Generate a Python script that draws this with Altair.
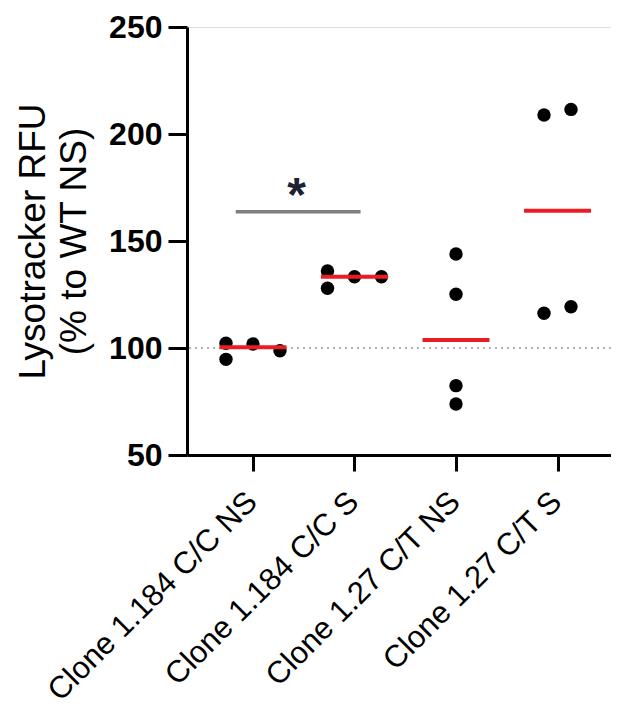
import json
import altair as alt
import pandas as pd

# ---- data ----
groups = ["Clone 1.184 C/C NS", "Clone 1.184 C/C S", "Clone 1.27 C/T NS", "Clone 1.27 C/T S"]
g1_values = [102.2, 94.7, 101.9, 98.7]
g2_values = [136.0, 127.9, 133.3, 133.3]
g3_values = [143.9, 125.1, 82.4, 73.8]
g4_values = [208.9, 211.5, 116.2, 119.3]
# horizontal spreading slot of each dot inside its group (GraphPad-style scatter)
g1_slots = [-1, -1, 0, 1]
g2_slots = [-1, -1, 0, 1]
g3_slots = [0, 0, 0, 0]
g4_slots = [-0.5, 0.5, -0.5, 0.5]

y_ticks = [50, 100, 150, 200, 250]
reference_level = [100]
sig_from = [-0.17]
sig_to = [1.06]
sig_level = [163.7]
sig_star_pos = [0.43]
sig_label = ["*"]

rows = []
for gi, (vals, slots) in enumerate(zip([g1_values, g2_values, g3_values, g4_values],
                                       [g1_slots, g2_slots, g3_slots, g4_slots])):
    for v, s in zip(vals, slots):
        rows.append({"group": groups[gi], "gidx": gi, "slot": s, "value": v})
df = pd.DataFrame(rows)

sig_df = pd.DataFrame({"x": sig_from, "x2": sig_to, "y": sig_level,
                       "xs": sig_star_pos, "label": sig_label})
ref_df = pd.DataFrame({"y": reference_level})

FONT = "Liberation Sans"
label_expr = json.dumps(groups) + "[datum.value]"

x_scale = alt.Scale(domain=[-0.65, 3.527], nice=False, zero=False)
y_scale = alt.Scale(domain=[50, 250], nice=False, zero=False)

x_axis = alt.Axis(values=[0, 1, 2, 3], labelExpr=label_expr, labelAngle=-45,
                  labelAlign="right", labelBaseline="middle", labelFontSize=31,
                  labelFont=FONT, labelColor="black", labelPadding=26, labelOffset=-1,
                  labelLimit=0,
                  tickSize=16, tickWidth=3, tickColor="black", domainWidth=3,
                  domainColor="black", grid=False, title=None, labelOverlap=False,
                  labelBound=False, labelFlush=False)
y_axis = alt.Axis(values=y_ticks, labelFontSize=32, labelFontWeight="bold", labelFont=FONT,
                  labelColor="black", labelPadding=6, tickSize=19, tickWidth=3,
                  tickColor="black", domainWidth=3, domainColor="black", grid=False,
                  title=["Lysotracker RFU", "(% to WT NS)"], titleFont=FONT,
                  titleFontSize=37, titleFontWeight="normal", titleColor="black",
                  titleLineHeight=41, titlePadding=15)

base = alt.Chart(df)

dots = base.transform_calculate(
    xpos="datum.gidx + datum.slot * 0.266"
).mark_circle(size=180, color="black", opacity=1).encode(
    x=alt.X("xpos:Q", scale=x_scale, axis=x_axis),
    y=alt.Y("value:Q", scale=y_scale, axis=y_axis),
)

medians = base.transform_aggregate(
    med="median(value)", groupby=["gidx"]
).transform_calculate(
    xa="datum.gidx - 0.33", xb="datum.gidx + 0.33"
).mark_rule(color="#ec1c24", strokeWidth=4).encode(
    x=alt.X("xa:Q", scale=x_scale),
    x2="xb:Q",
    y=alt.Y("med:Q", scale=y_scale),
)

ref_line = alt.Chart(ref_df).mark_rule(color="#9a9a9a", strokeWidth=1.5,
                                        strokeDash=[2, 4]).encode(
    y=alt.Y("y:Q", scale=y_scale)
)

sig_bar = alt.Chart(sig_df).mark_rule(color="#7f7f7f", strokeWidth=3.5).encode(
    x=alt.X("x:Q", scale=x_scale), x2="x2:Q", y=alt.Y("y:Q", scale=y_scale)
)
sig_star = alt.Chart(sig_df).mark_text(font=FONT, fontSize=48, fontWeight="bold",
                                       color="#1c2233", baseline="alphabetic", dy=-1).encode(
    x=alt.X("xs:Q", scale=x_scale), y=alt.Y("y:Q", scale=y_scale), text="label:N"
)

chart = alt.layer(ref_line, dots, medians, sig_bar, sig_star).properties(
    width=424, height=428,
    autosize=alt.AutoSizeParams(type="none"),
    padding={"left": 179, "top": 19, "right": 0, "bottom": 258},
).configure_view(stroke=None).configure(background="white")

chart.save("out.html", embed_options={"renderer": "svg", "actions": False})
